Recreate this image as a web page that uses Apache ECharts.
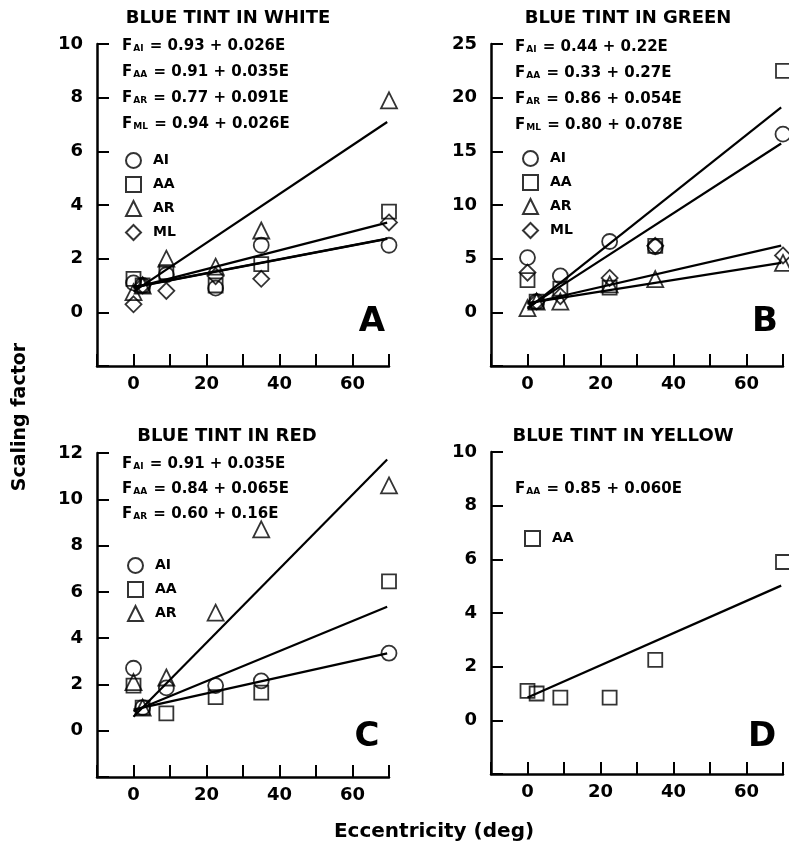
<!DOCTYPE html>
<html>
<head>
<meta charset="utf-8">
<script src="https://cdn.jsdelivr.net/npm/echarts@6/dist/echarts.min.js"></script>
<style>
    html, body { margin: 0; padding: 0; background: #fff; }
    #chart { width: 789px; height: 852px; }
</style>
</head>
<body>
<div id="chart"></div>
<script>
// eccentricity (deg) of the test positions
var ecc = [0, 2.5, 9, 22.5, 35, 70];

// blue tint in white
var whiteAI = [1.1, 1.0, 1.4, 0.9, 2.5, 2.5];
var whiteAA = [1.25, 1.0, 1.5, 1.0, 1.8, 3.75];
var whiteAR = [0.75, 1.0, 2.0, 1.7, 3.05, 7.9];
var whiteML = [0.3, 1.0, 0.8, 1.35, 1.25, 3.35];
var whiteIntercept = ['0.93', '0.91', '0.77', '0.94'];
var whiteSlope = ['0.026', '0.035', '0.091', '0.026'];

// blue tint in green
var greenAI = [5.1, 1.0, 3.4, 6.6, 6.1, 16.6];
var greenAA = [3.0, 1.0, 2.2, 2.3, 6.2, 22.5];
var greenAR = [0.4, 1.0, 1.0, 2.6, 3.1, 4.6];
var greenML = [3.7, 1.0, 1.5, 3.2, 6.2, 5.3];
var greenIntercept = ['0.44', '0.33', '0.86', '0.80'];
var greenSlope = ['0.22', '0.27', '0.054', '0.078'];

// blue tint in red
var redAI = [2.7, 1.0, 1.85, 1.95, 2.15, 3.35];
var redAA = [1.95, 1.0, 0.75, 1.45, 1.65, 6.45];
var redAR = [2.1, 1.0, 2.3, 5.1, 8.7, 10.6];
var redIntercept = ['0.91', '0.84', '0.60'];
var redSlope = ['0.035', '0.065', '0.16'];

// blue tint in yellow
var yellowAA = [1.1, 1.0, 0.85, 0.85, 2.25, 5.9];
var yellowIntercept = ['0.85'];
var yellowSlope = ['0.060'];

// range of E over which the fitted lines are drawn
var fitRange = [0, 69.5];

var panels = [
    { title: 'BLUE TINT IN WHITE', letter: 'A', names: ['AI', 'AA', 'AR', 'ML'],
      values: [whiteAI, whiteAA, whiteAR, whiteML], a: whiteIntercept, b: whiteSlope, yMin: -2, yMax: 10, yStep: 2 },
    { title: 'BLUE TINT IN GREEN', letter: 'B', names: ['AI', 'AA', 'AR', 'ML'],
      values: [greenAI, greenAA, greenAR, greenML], a: greenIntercept, b: greenSlope, yMin: -5, yMax: 25, yStep: 5 },
    { title: 'BLUE TINT IN RED', letter: 'C', names: ['AI', 'AA', 'AR'],
      values: [redAI, redAA, redAR], a: redIntercept, b: redSlope, yMin: -2, yMax: 12, yStep: 2 },
    { title: 'BLUE TINT IN YELLOW', letter: 'D', names: ['AA'],
      values: [yellowAA], a: yellowIntercept, b: yellowSlope, yMin: -2, yMax: 10, yStep: 2 }
];

// layout
var FONT = '"DejaVu Sans", "Liberation Sans", sans-serif';
var grids = [
    { left: 97, top: 44, width: 292, height: 322 },
    { left: 491, top: 44, width: 292, height: 322 },
    { left: 97, top: 453, width: 292, height: 324 },
    { left: 491, top: 452, width: 292, height: 322 }
];
var titlePos = [[228, 18], [628, 18], [227, 436], [623, 436]];
var letterPos = [[372, 322], [765, 322], [367, 737], [762, 737]];
var eqPos = [[122, 46, 26], [515, 47, 26], [122, 464, 25], [515, 489, 25]];
var legendPos = [[125, 152], [522, 150], [127, 557], [524, 530]];

var symbols = {
    AI: { symbol: 'circle', size: 15 },
    AA: { symbol: 'rect', size: 14 },
    AR: { symbol: 'triangle', size: 16 },
    ML: { symbol: 'diamond', size: 16 }
};

function scatter(name, gi, values) {
    var data = [];
    ecc.forEach(function(e, i) {
        if (values[i] != null) data.push([e, values[i]]);
    });
    return {
        name: name,
        type: 'scatter',
        xAxisIndex: gi,
        yAxisIndex: gi,
        symbol: symbols[name].symbol,
        symbolSize: symbols[name].size,
        clip: false,
        itemStyle: { color: 'rgba(0,0,0,0)', borderColor: '#000', borderWidth: 1.8 },
        data: data
    };
}

function fitLine(gi, a, b) {
    var y0 = parseFloat(a), k = parseFloat(b);
    return {
        type: 'line',
        xAxisIndex: gi,
        yAxisIndex: gi,
        silent: true,
        showSymbol: false,
        z: 1,
        lineStyle: { color: '#000', width: 2.2 },
        data: [[fitRange[0], y0 + k * fitRange[0]], [fitRange[1], y0 + k * fitRange[1]]]
    };
}

function txt(x, y, text, size, align) {
    return {
        type: 'text',
        x: x,
        y: y,
        silent: true,
        style: {
            text: text,
            font: 'bold ' + size + 'px ' + FONT,
            fill: '#000',
            align: align || 'center',
            textAlign: align || 'center',
            verticalAlign: 'middle',
            textVerticalAlign: 'middle'
        }
    };
}

var option = {
    animation: false,
    backgroundColor: '#fff',
    grid: grids,
    xAxis: [],
    yAxis: [],
    series: [],
    legend: [],
    graphic: []
};

panels.forEach(function(p, gi) {
    option.xAxis.push({
        type: 'value',
        gridIndex: gi,
        min: -10,
        max: 70,
        interval: 10,
        splitLine: { show: false },
        axisLine: { onZero: false, lineStyle: { color: '#000', width: 2.5 } },
        axisTick: { inside: true, length: 12, lineStyle: { color: '#000', width: 2 } },
        axisLabel: {
            margin: 9,
            color: '#000',
            fontFamily: FONT,
            fontWeight: 'bold',
            fontSize: 18,
            formatter: function(v) { return (v >= 0 && v % 20 === 0) ? String(v) : ''; }
        }
    });
    option.yAxis.push({
        type: 'value',
        gridIndex: gi,
        min: p.yMin,
        max: p.yMax,
        interval: p.yStep,
        splitLine: { show: false },
        axisLine: { onZero: false, lineStyle: { color: '#000', width: 2.5 } },
        axisTick: { inside: true, length: 12, lineStyle: { color: '#000', width: 2 } },
        axisLabel: {
            margin: 14,
            color: '#000',
            fontFamily: FONT,
            fontWeight: 'bold',
            fontSize: 18,
            formatter: function(v) { return v >= 0 ? String(v) : ''; }
        }
    });

    p.names.forEach(function(n, k) {
        option.series.push(fitLine(gi, p.a[k], p.b[k]));
    });
    p.names.forEach(function(n, k) {
        option.series.push(scatter(n, gi, p.values[k]));
    });

    // symbol key
    option.legend.push({
        data: p.names,
        orient: 'vertical',
        left: legendPos[gi][0],
        top: legendPos[gi][1],
        padding: 0,
        itemGap: 7,
        itemWidth: 15,
        itemHeight: 15,
        selectedMode: false,
        textStyle: { color: '#000', fontFamily: FONT, fontWeight: 'bold', fontSize: 14, padding: [0, 0, 0, 7], lineHeight: 15 }
    });

    // titles, equations, panel letter
    option.graphic.push(txt(titlePos[gi][0], titlePos[gi][1], p.title, 18));
    option.graphic.push(txt(letterPos[gi][0], letterPos[gi][1], p.letter, 34));
    p.names.forEach(function(n, k) {
        option.graphic.push({
            type: 'text',
            x: eqPos[gi][0],
            y: eqPos[gi][1] + k * eqPos[gi][2],
            silent: true,
            style: {
                text: 'F{s|' + n + '} = ' + p.a[k] + ' + ' + p.b[k] + 'E',
                font: 'bold 15px ' + FONT,
                fill: '#000',
                align: 'left',
                textAlign: 'left',
                verticalAlign: 'middle',
                textVerticalAlign: 'middle',
                rich: {
                    s: { fontFamily: FONT, fontWeight: 'bold', fontSize: 9, verticalAlign: 'bottom', lineHeight: 9, padding: [4, 1, 0, 1] }
                }
            }
        });
    });
});

// shared axis names
option.graphic.push(txt(434, 832, 'Eccentricity (deg)', 20));
var yName = txt(20, 417, 'Scaling factor', 19);
yName.rotation = Math.PI / 2;
option.graphic.push(yName);

var myChart = echarts.init(document.getElementById('chart'));
myChart.setOption(option);
</script>
</body>
</html>
